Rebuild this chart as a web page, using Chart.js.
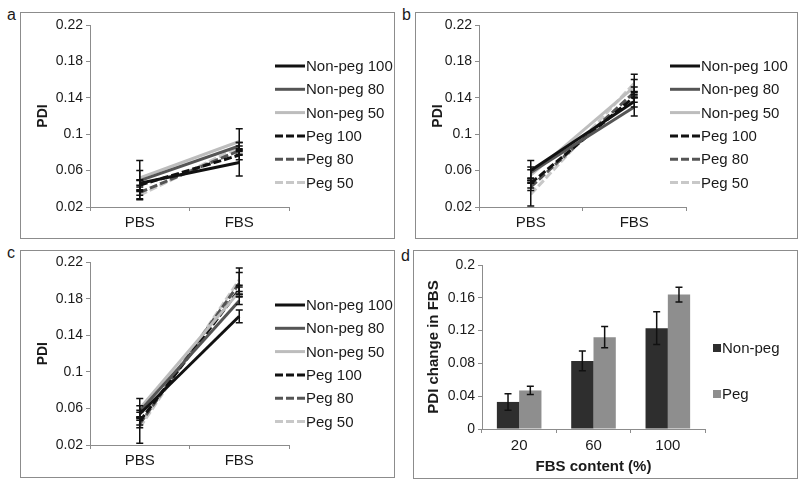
<!DOCTYPE html>
<html>
<head>
<meta charset="utf-8">
<script src="https://cdn.jsdelivr.net/npm/chart.js@4.4.1/dist/chart.umd.min.js"></script>
<style>
  body { margin: 0; background: #fff; width: 800px; height: 485px; position: relative; overflow: hidden;
         font-family: "Liberation Sans", Arial, sans-serif; }
  .frame { position: absolute; border: 1px solid #8c8c8c; }
  .frame canvas { display: block; }
  .tag { position: absolute; font-size: 16px; line-height: 16px; color: #1a1a1a; }
</style>
</head>
<body>
<div class="tag" style="left:7px;top:7px">a</div>
<div class="tag" style="left:402px;top:7px">b</div>
<div class="tag" style="left:7px;top:245px">c</div>
<div class="tag" style="left:401px;top:248px">d</div>

<div class="frame" style="left:20px;top:12px"><canvas id="chartA" width="373" height="225"></canvas></div>
<div class="frame" style="left:415px;top:12px"><canvas id="chartB" width="381" height="225"></canvas></div>
<div class="frame" style="left:20px;top:250px"><canvas id="chartC" width="373" height="226"></canvas></div>
<div class="frame" style="left:413px;top:250px"><canvas id="chartD" width="383" height="227"></canvas></div>

<script>
// ---- data ----
const media = ['PBS', 'FBS'];
const seriesNames = ['Non-peg 100', 'Non-peg 80', 'Non-peg 50', 'Peg 100', 'Peg 80', 'Peg 50'];
const pdiTicks = [0.02, 0.06, 0.1, 0.14, 0.18, 0.22];

// [PBS, FBS] per series, same order as seriesNames
const pdiA = [[0.046, 0.069], [0.049, 0.087], [0.052, 0.092], [0.044, 0.077], [0.036, 0.082], [0.033, 0.086]];
const errA = [[0.004, 0.015], [0.011, 0.004], [0.019, 0.014], [0.005, 0.005], [0.008, 0.005], [0.004, 0.005]];
const pdiB = [[0.060, 0.136], [0.058, 0.130], [0.055, 0.152], [0.046, 0.141], [0.042, 0.146], [0.034, 0.156]];
const errB = [[0.011, 0.006], [0.006, 0.010], [0.006, 0.008], [0.005, 0.006], [0.004, 0.006], [0.013, 0.010]];
const pdiC = [[0.054, 0.161], [0.057, 0.178], [0.060, 0.188], [0.046, 0.190], [0.043, 0.197], [0.039, 0.201]];
const errC = [[0.004, 0.007], [0.006, 0.004], [0.011, 0.005], [0.004, 0.005], [0.004, 0.012], [0.017, 0.013]];

const fbsContent = ['20', '60', '100'];
const changeTicks = [0, 0.04, 0.08, 0.12, 0.16, 0.2];
const changeNonPeg = [0.033, 0.083, 0.123];
const changeNonPegErr = [0.010, 0.012, 0.020];
const changePeg = [0.047, 0.112, 0.164];
const changePegErr = [0.005, 0.013, 0.009];

// ---- styles ----
const lineColors = ['#111111', '#555555', '#bdbdbd', '#111111', '#555555', '#c8c8c8'];
const lineDashes = [[], [], [], [8, 3], [8, 3], [8, 3]];
const FONT = '"Liberation Sans", Arial, sans-serif';
const AXIS = '#8c8c8c';

Chart.defaults.font.family = FONT;
Chart.defaults.font.size = 14;
Chart.defaults.color = '#1a1a1a';
Chart.defaults.animation = false;

const fmt = v => String(+v.toFixed(2));

// vertical error bars with caps
const errorBars = {
  id: 'errorBars',
  afterDatasetsDraw(chart) {
    const ctx = chart.ctx, y = chart.scales.y;
    ctx.save();
    ctx.strokeStyle = '#111';
    ctx.lineWidth = 1.5;
    chart.data.datasets.forEach((ds, i) => {
      if (!ds.errors) return;
      chart.getDatasetMeta(i).data.forEach((el, j) => {
        const top = y.getPixelForValue(ds.data[j] + ds.errors[j]);
        const bot = y.getPixelForValue(ds.data[j] - ds.errors[j]);
        ctx.beginPath();
        ctx.moveTo(el.x, top); ctx.lineTo(el.x, bot);
        ctx.moveTo(el.x - 3.5, top); ctx.lineTo(el.x + 3.5, top);
        ctx.moveTo(el.x - 3.5, bot); ctx.lineTo(el.x + 3.5, bot);
        ctx.stroke();
      });
    });
    ctx.restore();
  }
};

// legend on the right, like the Excel one
const sideLegend = {
  id: 'sideLegend',
  afterDraw(chart, args, opts) {
    const ctx = chart.ctx;
    ctx.save();
    ctx.font = '15px ' + FONT;
    ctx.textBaseline = 'middle';
    chart.data.datasets.forEach((ds, i) => {
      const y = opts.y + i * opts.gap;
      let tx;
      if (opts.box) {
        ctx.fillStyle = ds.backgroundColor;
        ctx.fillRect(opts.x, y - 4, 8, 8);
        tx = opts.x + 9;
      } else {
        ctx.strokeStyle = ds.borderColor;
        ctx.lineWidth = ds.borderWidth;
        ctx.setLineDash(ds.borderDash);
        ctx.beginPath();
        ctx.moveTo(opts.x, y); ctx.lineTo(opts.x + 30, y);
        ctx.stroke();
        ctx.setLineDash([]);
        tx = opts.x + 31;
      }
      ctx.fillStyle = '#1a1a1a';
      ctx.fillText(ds.label, tx, y + 1);
    });
    ctx.restore();
  }
};

function pdiChart(id, values, errors, box) {
  return new Chart(document.getElementById(id), {
    type: 'line',
    data: {
      labels: media,
      datasets: seriesNames.map((name, i) => ({
        label: name,
        data: values[i],
        errors: errors[i],
        borderColor: lineColors[i],
        borderDash: lineDashes[i],
        borderWidth: 3,
        pointRadius: 0,
        tension: 0
      }))
    },
    options: {
      responsive: false,
      layout: { padding: { top: box.top, right: box.right, left: 0, bottom: 0 } },
      plugins: {
        legend: { display: false },
        tooltip: { enabled: false },
        sideLegend: { x: 254, y: box.legendY, gap: 23.3 }
      },
      scales: {
        x: {
          offset: true,
          afterFit: s => { s.height = box.bottom; },
          grid: { offset: true, drawOnChartArea: false, color: AXIS, tickLength: 4 },
          border: { color: AXIS },
          ticks: { padding: 3, font: { size: 15 } }
        },
        y: {
          min: 0.02, max: 0.22,
          afterBuildTicks: s => { s.ticks = pdiTicks.map(v => ({ value: v })); },
          afterFit: s => { s.width = box.left; },
          grid: { drawOnChartArea: false, color: AXIS, tickLength: 4 },
          border: { color: AXIS },
          ticks: { padding: 3, callback: fmt },
          title: { display: true, text: 'PDI', font: { weight: 'bold', size: 14 }, padding: { top: 14, bottom: 0 } }
        }
      }
    },
    plugins: [errorBars, sideLegend]
  });
}

pdiChart('chartA', pdiA, errA, { left: 69, right: 105, top: 12, bottom: 31, legendY: 53 });
pdiChart('chartB', pdiB, errB, { left: 63, right: 111, top: 12, bottom: 31, legendY: 53 });
pdiChart('chartC', pdiC, errC, { left: 69, right: 105, top: 11, bottom: 32, legendY: 54 });

new Chart(document.getElementById('chartD'), {
  type: 'bar',
  data: {
    labels: fbsContent,
    datasets: [
      { label: 'Non-peg', data: changeNonPeg, errors: changeNonPegErr, backgroundColor: '#2e2e2e' },
      { label: 'Peg', data: changePeg, errors: changePegErr, backgroundColor: '#8e8e8e' }
    ]
  },
  options: {
    responsive: false,
    layout: { padding: { top: 14, right: 92, left: 0, bottom: 0 } },
    datasets: { bar: { categoryPercentage: 0.6, barPercentage: 1.0 } },
    plugins: {
      legend: { display: false },
      tooltip: { enabled: false },
      sideLegend: { x: 299, y: 97, gap: 46, box: true }
    },
    scales: {
      x: {
        afterFit: s => { s.height = 49; },
        grid: { offset: true, drawOnChartArea: false, color: AXIS, tickLength: 4 },
        border: { color: AXIS },
        ticks: { padding: 4, font: { size: 15 } },
        title: { display: true, text: 'FBS content (%)', font: { weight: 'bold', size: 15 }, padding: { top: 0, bottom: 2 } }
      },
      y: {
        min: 0, max: 0.2,
        afterBuildTicks: s => { s.ticks = changeTicks.map(v => ({ value: v })); },
        afterFit: s => { s.width = 68; },
        grid: { drawOnChartArea: false, color: AXIS, tickLength: 4 },
        border: { color: AXIS },
        ticks: { padding: 3, callback: fmt },
        title: { display: true, text: 'PDI change in FBS', font: { weight: 'bold', size: 15 }, padding: { top: 11, bottom: 0 } }
      }
    }
  },
  plugins: [errorBars, sideLegend]
});
</script>
</body>
</html>
